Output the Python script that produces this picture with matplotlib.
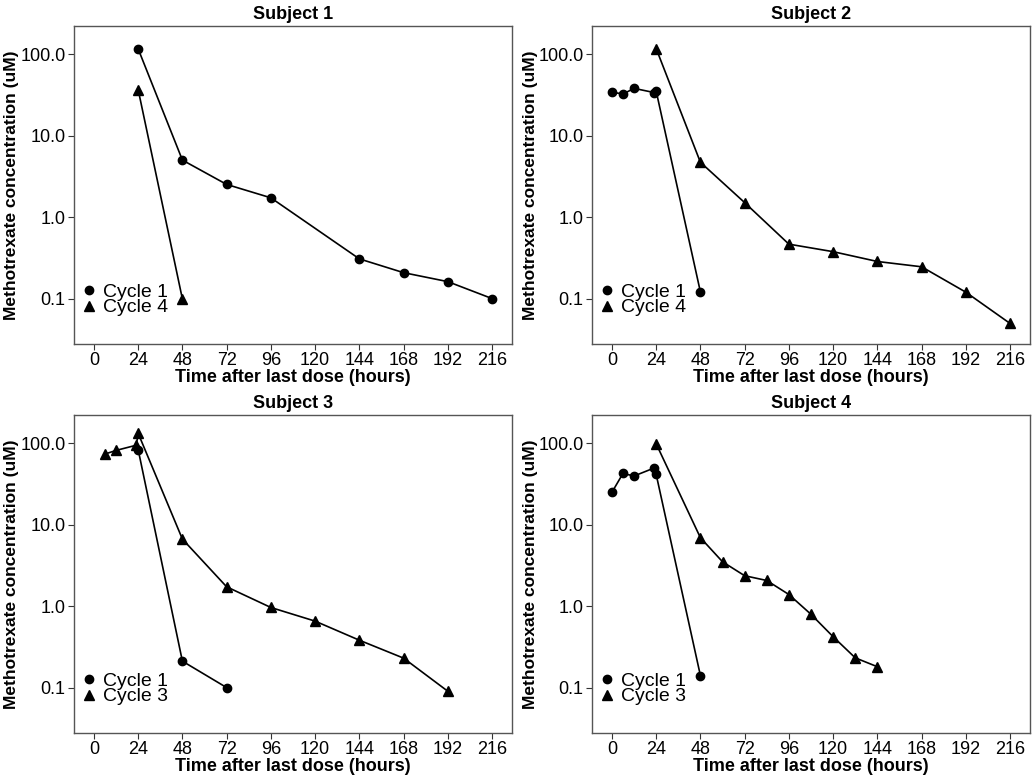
import matplotlib
matplotlib.use("Agg")
import matplotlib.pyplot as plt
from matplotlib.ticker import FixedLocator, FixedFormatter, NullLocator

plt.rcParams['font.family'] = ['Liberation Sans', 'DejaVu Sans']

# Subject 1
s1_c1_t = [24, 48, 72, 96, 144, 168, 192, 216]
s1_c1_y = [117, 5.05, 2.54, 1.74, 0.31, 0.21, 0.163, 0.101]
s1_c2_t = [24, 48]
s1_c2_y = [37, 0.1]

# Subject 2
s2_c1_t = [0, 6, 12, 23, 24, 48]
s2_c1_y = [34.5, 32.6, 38.3, 34.0, 35.5, 0.122]
s2_c2_t = [24, 48, 72, 96, 120, 144, 168, 192, 216]
s2_c2_y = [118, 4.75, 1.52, 0.47, 0.38, 0.288, 0.248, 0.121, 0.05]

# Subject 3
s3_c1_t = [24, 48, 72]
s3_c1_y = [84, 0.213, 0.101]
s3_c2_t = [6, 12, 23, 24, 48, 72, 96, 120, 144, 168, 192]
s3_c2_y = [74, 82, 95, 133, 6.7, 1.74, 0.97, 0.66, 0.385, 0.232, 0.091]

# Subject 4
s4_c1_t = [0, 6, 12, 23, 24, 48]
s4_c1_y = [25.1, 42.8, 39.8, 50.0, 41.7, 0.142]
s4_c2_t = [24, 48, 60, 72, 84, 96, 108, 120, 132, 144]
s4_c2_y = [99, 6.97, 3.53, 2.38, 2.08, 1.40, 0.80, 0.425, 0.234, 0.182]

subjects = ["Subject 1", "Subject 2", "Subject 3", "Subject 4"]
cycle_labels = [("Cycle 1", "Cycle 4"), ("Cycle 1", "Cycle 4"),
                ("Cycle 1", "Cycle 3"), ("Cycle 1", "Cycle 3")]
data = [
    (s1_c1_t, s1_c1_y, s1_c2_t, s1_c2_y),
    (s2_c1_t, s2_c1_y, s2_c2_t, s2_c2_y),
    (s3_c1_t, s3_c1_y, s3_c2_t, s3_c2_y),
    (s4_c1_t, s4_c1_y, s4_c2_t, s4_c2_y),
]

x_ticks = [0, 24, 48, 72, 96, 120, 144, 168, 192, 216]
y_ticks = [0.1, 1, 10, 100]
y_tick_labels = ["0.1", "1.0", "10.0", "100.0"]

fig = plt.figure(figsize=(10.35, 7.77), dpi=100)

W, H = 1035, 777
boxes = [(74, 26), (592, 26), (74, 415), (592, 415)]
ylabel_x = [12, 530, 12, 530]
aw, ah = 438, 318
fs = 13

for i, (x0, y0) in enumerate(boxes):
    ax = fig.add_axes([x0 / W, 1 - (y0 + ah) / H, aw / W, ah / H])
    t1, y1, t2, y2 = data[i]
    ax.plot(t1, y1, color='black', lw=1.2, marker='o', ms=6, label=cycle_labels[i][0])
    ax.plot(t2, y2, color='black', lw=1.2, marker='^', ms=7.5, label=cycle_labels[i][1])
    ax.set_yscale('log')
    ax.set_xlim(-10.8, 226.8)
    ax.set_ylim(0.028, 223)
    ax.xaxis.set_major_locator(FixedLocator(x_ticks))
    ax.yaxis.set_major_locator(FixedLocator(y_ticks))
    ax.yaxis.set_major_formatter(FixedFormatter(y_tick_labels))
    ax.yaxis.set_minor_locator(NullLocator())
    ax.tick_params(axis='both', labelsize=13, colors='#333333', labelcolor='black',
                   length=4, width=0.8, pad=2)
    for sp in ax.spines.values():
        sp.set_color('#555555')
        sp.set_linewidth(1.0)
    ax.set_title(subjects[i], fontsize=fs, fontweight='bold', pad=5)
    ax.set_xlabel("Time after last dose (hours)", fontsize=fs, fontweight='bold', labelpad=0)
    ax.set_ylabel("Methotrexate concentration (uM)", fontsize=12.5, fontweight='bold',
                  va='center')
    ax.yaxis.set_label_coords((ylabel_x[i] - x0) / aw, 0.5)
    leg = ax.legend(loc='lower left', bbox_to_anchor=(-0.005, 0.05), frameon=False,
                    fontsize=14, handlelength=0.6, handletextpad=0.4, labelspacing=-0.1,
                    borderaxespad=0.2)
    for h in leg.legend_handles:
        h.set_linestyle('')

fig.savefig("out.png", dpi=100)
